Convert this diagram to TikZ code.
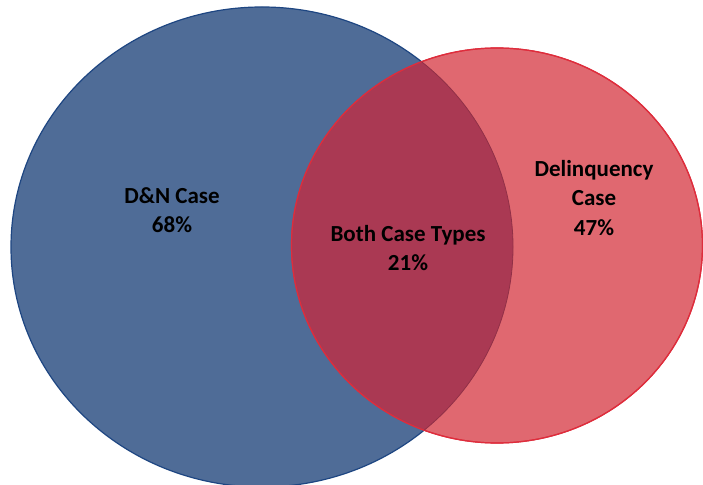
\documentclass[tikz,border=0pt]{standalone}
\usepackage{fontspec}
\setmainfont{Carlito}
\definecolor{bluefill}{RGB}{79,108,151}
\definecolor{blueline}{RGB}{30,70,130}
\definecolor{redfill}{RGB}{224,104,112}
\definecolor{redline}{RGB}{222,45,60}
\definecolor{overlap}{RGB}{170,57,83}
\tikzset{lbl/.style={align=center,font=\bfseries\fontsize{23}{29.5}\selectfont,text=black,inner sep=0pt}}
\begin{document}
\begin{tikzpicture}[x=1pt,y=1pt]
\useasboundingbox (0,0) rectangle (703,484);
\fill[white] (0,0) rectangle (703,484);
\begin{scope}
\clip (0,0) rectangle (703,484);
\filldraw[fill=bluefill,draw=blueline,line width=1.2pt] (262,237) ellipse [x radius=251,y radius=240];
\filldraw[fill=redfill,draw=redline,line width=1.2pt] (497,238.5) ellipse [x radius=205.5,y radius=197.5];
\begin{scope}
\clip (262,237) ellipse [x radius=251,y radius=240];
\fill[overlap] (497,238.5) ellipse [x radius=205.5,y radius=197.5];
\end{scope}
\draw[redline,line width=1.2pt] (497,238.5) ellipse [x radius=205.5,y radius=197.5];
\begin{scope}
\clip (497,238.5) ellipse [x radius=205.5,y radius=197.5];
\draw[overlap!85!black,line width=0.8pt] (262,237) ellipse [x radius=251,y radius=240];
\end{scope}
\end{scope}
\node[lbl] (dn) at (172,274) {D\&N Case\\68\%};
\node[lbl] (both) at (408,236) {Both Case Types\\21\%};
\node[lbl] (del) at (594,286) {Delinquency\\Case\\47\%};
\end{tikzpicture}
\end{document}
